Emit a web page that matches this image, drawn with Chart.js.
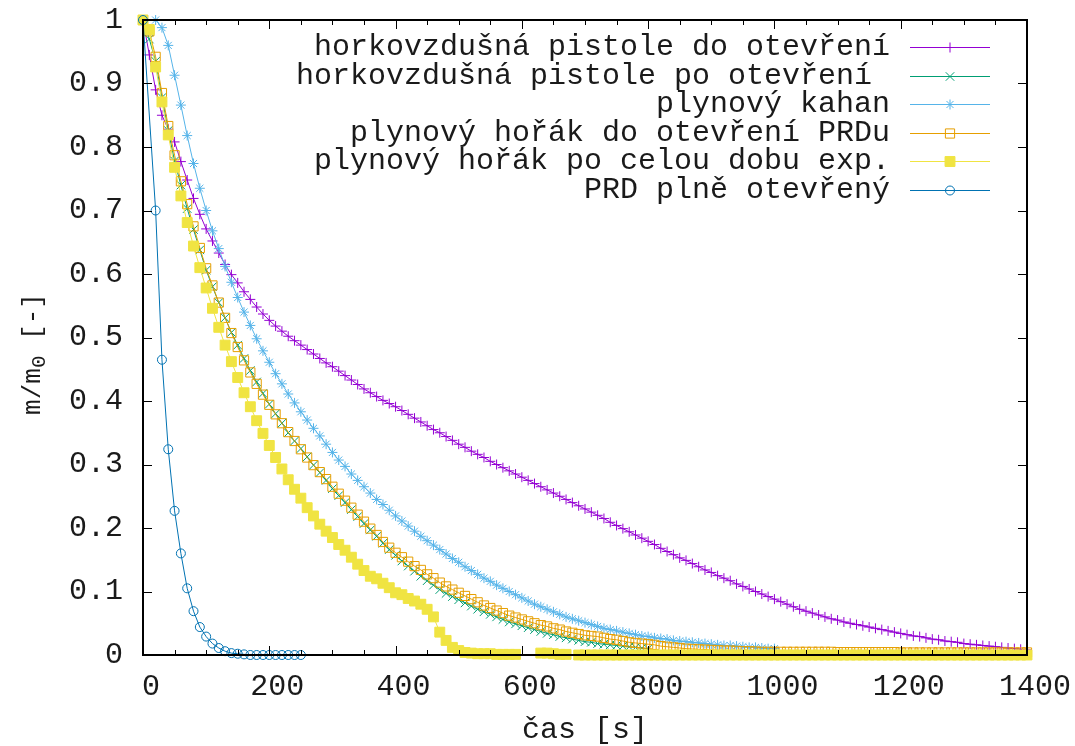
<!DOCTYPE html>
<html>
<head>
<meta charset="utf-8">
<script src="https://cdn.jsdelivr.net/npm/chart.js@4.4.1/dist/chart.umd.min.js"></script>
<style>
    html, body { margin: 0; padding: 0; background: #fff; }
    #wrap { width: 1075px; height: 746px; position: relative; }
</style>
</head>
<body>
<div id="wrap"><canvas id="myChart"></canvas></div>
<script>
    // sampling step of the measured series [s]
    const sampleStep = 10;

    const seriesLabels = [
        'horkovzdušná pistole do otevření',
        'horkovzdušná pistole po otevření ',
        'plynový kahan',
        'plynový hořák do otevření PRDu',
        'plynový hořák po celou dobu exp.',
        'PRD plně otevřený'
    ];

    // horkovzdušná pistole do otevření, t = 0 .. 1400 s
    const hotAirBefore = [
        1.000, 0.945, 0.890, 0.850, 0.828, 0.808, 0.777, 0.748, 0.719, 0.694,
        0.671, 0.652, 0.633, 0.615, 0.599, 0.586, 0.572, 0.560, 0.548, 0.537,
        0.527, 0.518, 0.510, 0.502, 0.495, 0.488, 0.481, 0.474, 0.467, 0.460,
        0.454, 0.447, 0.440, 0.433, 0.426, 0.419, 0.413, 0.407, 0.401, 0.396,
        0.391, 0.385, 0.379, 0.373, 0.367, 0.361, 0.355, 0.350, 0.344, 0.338,
        0.332, 0.327, 0.321, 0.316, 0.311, 0.305, 0.300, 0.295, 0.290, 0.285,
        0.280, 0.275, 0.270, 0.265, 0.260, 0.255, 0.250, 0.245, 0.240, 0.235,
        0.230, 0.225, 0.220, 0.215, 0.209, 0.204, 0.199, 0.194, 0.189, 0.184,
        0.179, 0.174, 0.168, 0.163, 0.158, 0.153, 0.149, 0.144, 0.139, 0.134,
        0.130, 0.125, 0.121, 0.117, 0.112, 0.108, 0.104, 0.100, 0.096, 0.092,
        0.088, 0.084, 0.080, 0.076, 0.072, 0.069, 0.066, 0.063, 0.060, 0.057,
        0.055, 0.052, 0.050, 0.048, 0.046, 0.044, 0.042, 0.040, 0.038, 0.036,
        0.034, 0.032, 0.030, 0.029, 0.027, 0.025, 0.024, 0.022, 0.021, 0.020,
        0.018, 0.017, 0.016, 0.015, 0.014, 0.013, 0.012, 0.011, 0.010, 0.009,
        0.008
    ];

    // horkovzdušná pistole po otevření, t = 0 .. 800 s
    const hotAirAfter = [
        1.000, 0.970, 0.935, 0.878, 0.826, 0.778, 0.740, 0.703, 0.670, 0.638,
        0.606, 0.580, 0.555, 0.531, 0.508, 0.488, 0.467, 0.448, 0.430, 0.412,
        0.395, 0.380, 0.365, 0.350, 0.337, 0.325, 0.312, 0.299, 0.287, 0.275,
        0.262, 0.251, 0.240, 0.229, 0.218, 0.207, 0.197, 0.187, 0.176, 0.166,
        0.157, 0.148, 0.140, 0.132, 0.124, 0.117, 0.110, 0.103, 0.097, 0.092,
        0.087, 0.082, 0.077, 0.072, 0.068, 0.064, 0.060, 0.056, 0.052, 0.049,
        0.046, 0.043, 0.040, 0.037, 0.034, 0.032, 0.029, 0.027, 0.025, 0.023,
        0.021, 0.020, 0.018, 0.017, 0.016, 0.015, 0.014, 0.013, 0.012, 0.011,
        0.010
    ];

    // plynový kahan, t = 20 .. 1000 s
    const gasLamp = [
        1.000, 0.988, 0.960, 0.913, 0.866, 0.818, 0.774, 0.735, 0.700, 0.668,
        0.640, 0.612, 0.587, 0.563, 0.540, 0.519, 0.498, 0.479, 0.461, 0.443,
        0.427, 0.411, 0.397, 0.383, 0.370, 0.357, 0.345, 0.332, 0.319, 0.307,
        0.297, 0.285, 0.275, 0.265, 0.255, 0.245, 0.237, 0.228, 0.219, 0.211,
        0.203, 0.195, 0.187, 0.180, 0.173, 0.166, 0.159, 0.152, 0.146, 0.139,
        0.133, 0.127, 0.121, 0.116, 0.110, 0.105, 0.100, 0.095, 0.090, 0.085,
        0.080, 0.076, 0.072, 0.068, 0.064, 0.060, 0.057, 0.054, 0.051, 0.048,
        0.045, 0.042, 0.040, 0.038, 0.036, 0.034, 0.032, 0.030, 0.029, 0.027,
        0.026, 0.025, 0.023, 0.022, 0.021, 0.020, 0.019, 0.018, 0.017, 0.016,
        0.015, 0.015, 0.014, 0.013, 0.012, 0.012, 0.011, 0.010, 0.010
    ];
    const gasLampStart = 20;

    // plynový hořák do otevření PRDu, t = 0 .. 1400 s
    const burnerBefore = [
        1.000, 0.982, 0.942, 0.885, 0.833, 0.787, 0.746, 0.710, 0.675, 0.641,
        0.609, 0.582, 0.555, 0.531, 0.507, 0.485, 0.464, 0.445, 0.427, 0.410,
        0.394, 0.379, 0.365, 0.351, 0.337, 0.324, 0.311, 0.299, 0.288, 0.277,
        0.265, 0.254, 0.243, 0.232, 0.221, 0.210, 0.199, 0.189, 0.178, 0.169,
        0.161, 0.154, 0.147, 0.140, 0.134, 0.127, 0.121, 0.114, 0.108, 0.103,
        0.098, 0.093, 0.088, 0.083, 0.078, 0.074, 0.070, 0.066, 0.062, 0.059,
        0.056, 0.053, 0.050, 0.047, 0.045, 0.042, 0.040, 0.037, 0.035, 0.033,
        0.031, 0.030, 0.029, 0.027, 0.025, 0.024, 0.022, 0.020, 0.019, 0.018,
        0.017, 0.016, 0.014, 0.013, 0.012, 0.011, 0.010, 0.0095, 0.009, 0.0085,
        0.008, 0.0075, 0.007, 0.007, 0.0065, 0.006, 0.006, 0.0055, 0.005, 0.005,
        0.005, 0.005, 0.005, 0.005, 0.005, 0.005, 0.005, 0.005, 0.005, 0.005,
        0.0045, 0.0045, 0.0045, 0.0045, 0.0045, 0.0045, 0.0045, 0.0045, 0.0045, 0.0045,
        0.004, 0.004, 0.004, 0.004, 0.004, 0.004, 0.004, 0.004, 0.004, 0.004,
        0.004, 0.004, 0.004, 0.004, 0.004, 0.004, 0.004, 0.004, 0.004, 0.004,
        0.004
    ];

    // plynový hořák po celou dobu exp., t = 0 .. 1400 s (null = out of range)
    const burnerWhole = [
        1.000, 0.985, 0.926, 0.871, 0.819, 0.768, 0.723, 0.681, 0.644, 0.610,
        0.578, 0.546, 0.516, 0.488, 0.462, 0.437, 0.413, 0.391, 0.369, 0.349,
        0.330, 0.311, 0.293, 0.276, 0.261, 0.247, 0.232, 0.219, 0.206, 0.195,
        0.185, 0.174, 0.165, 0.154, 0.143, 0.133, 0.124, 0.120, 0.113, 0.106,
        0.098, 0.095, 0.089, 0.085, 0.080, 0.072, 0.060, 0.036, 0.023, 0.012,
        0.007, 0.004, 0.003, 0.002, 0.002, 0.002, 0.001, 0.001, 0.001, 0.001,
        null, null, null, 0.003, 0.003, 0.002, 0.001, 0.001, null, 0,
        0, 0, 0, 0, 0, 0, 0, 0, 0, 0,
        0, 0, 0, 0, 0, 0, 0, 0, 0, 0,
        0, 0, 0, 0, 0, 0, 0, 0, 0, 0,
        0, 0, 0, 0, 0, 0, 0, 0, 0, 0,
        0, 0, 0, 0, 0, 0, 0, 0, 0, 0,
        0, 0, 0, 0, 0, 0, 0, 0, 0, 0,
        0, 0, 0, 0, 0, 0, 0, 0, 0, 0,
        0
    ];

    // PRD plně otevřený
    const prdTimes = [0, 20, 30, 40, 50, 60, 70, 80, 90, 100, 110, 120, 130, 140, 150, 160, 170, 180, 190, 200, 210, 220, 230, 240, 250];
    const prdValues = [1.000, 0.700, 0.465, 0.324, 0.227, 0.160, 0.105, 0.069, 0.044, 0.029, 0.018, 0.011, 0.006, 0.003, 0.002, 0.001, 0, 0, 0, 0, 0, 0, 0, 0, 0];

    const xTickLabels = [0, 200, 400, 600, 800, 1000, 1200, 1400];
    const yTickLabels = ['0', '0.1', '0.2', '0.3', '0.4', '0.5', '0.6', '0.7', '0.8', '0.9', '1'];

    const monoFont = '"Liberation Mono", "DejaVu Sans Mono", monospace';
    const fontSize = 30;
    const textColor = '#1a1a1a';

    function sampled(start, values) {
        return values.map((v, i) => ({ x: start + i * sampleStep, y: v }));
    }

    function paired(times, values) {
        return times.map((t, i) => ({ x: t, y: values[i] }));
    }

    function makeSet(i, data, color, style, radius, filled, order) {
        return {
            label: seriesLabels[i],
            data: data,
            borderColor: color,
            backgroundColor: color,
            borderWidth: 1,
            pointStyle: style,
            pointRadius: radius,
            pointBorderWidth: 1,
            pointBorderColor: color,
            pointBackgroundColor: filled ? color : 'rgba(0,0,0,0)',
            tension: 0,
            clip: false,
            spanGaps: false,
            order: order
        };
    }

    const datasets = [
        makeSet(0, sampled(0, hotAirBefore), '#9400D3', 'cross', 5, false, 6),
        makeSet(1, sampled(0, hotAirAfter), '#009E73', 'crossRot', 6, false, 5),
        makeSet(2, sampled(gasLampStart, gasLamp), '#56B4E9', 'star', 5, false, 4),
        makeSet(3, sampled(0, burnerBefore), '#E69F00', 'rect', 6.5, false, 3),
        makeSet(4, sampled(0, burnerWhole), '#F0E442', 'rect', 7, true, 2),
        makeSet(5, paired(prdTimes, prdValues), '#0072B2', 'circle', 4.5, false, 1)
    ];

    // gnuplot-like frame with inward ticks on all four sides
    const framePlugin = {
        id: 'frame',
        afterDatasetsDraw(chart) {
            const { ctx, chartArea: a, scales: { x, y } } = chart;
            ctx.save();
            ctx.strokeStyle = '#000';
            ctx.lineWidth = 1;
            ctx.beginPath();
            for (let t = x.min; t <= x.max; t += 50) {
                const px = Math.round(x.getPixelForValue(t)) + 0.5;
                const len = xTickLabels.includes(t) ? 9 : 5;
                ctx.moveTo(px, a.bottom); ctx.lineTo(px, a.bottom - len);
                ctx.moveTo(px, a.top); ctx.lineTo(px, a.top + len);
            }
            y.ticks.forEach(tk => {
                const py = Math.round(y.getPixelForValue(tk.value)) + 0.5;
                ctx.moveTo(a.left, py); ctx.lineTo(a.left + 9, py);
                ctx.moveTo(a.right, py); ctx.lineTo(a.right - 9, py);
            });
            ctx.stroke();
            ctx.lineWidth = 2;
            ctx.strokeRect(a.left, a.top, a.right - a.left, a.bottom - a.top);
            ctx.restore();
        }
    };

    // legend: text right aligned, then line sample with marker
    const keyPlugin = {
        id: 'key',
        afterDraw(chart) {
            const ctx = chart.ctx;
            const textRight = 890, lineStart = 910, lineEnd = 990, firstRow = 47, rowStep = 28.6;
            ctx.save();
            ctx.font = fontSize + 'px ' + monoFont;
            ctx.textAlign = 'right';
            ctx.textBaseline = 'middle';
            chart.data.datasets.forEach((ds, i) => {
                const yy = firstRow + i * rowStep;
                ctx.fillStyle = textColor;
                ctx.fillText(ds.label, textRight, yy);
                ctx.strokeStyle = ds.borderColor;
                ctx.lineWidth = 1;
                ctx.beginPath();
                ctx.moveTo(lineStart, Math.round(yy) + 0.5);
                ctx.lineTo(lineEnd, Math.round(yy) + 0.5);
                ctx.stroke();
                ctx.fillStyle = ds.pointBackgroundColor;
                Chart.helpers.drawPoint(ctx, {
                    pointStyle: ds.pointStyle,
                    radius: ds.pointRadius,
                    rotation: 0,
                    borderWidth: 1
                }, (lineStart + lineEnd) / 2, Math.round(yy) + 0.5);
            });
            ctx.restore();
        }
    };

    // y axis title m/m0 [-] with subscript
    const yTitlePlugin = {
        id: 'yTitle',
        afterDraw(chart) {
            const ctx = chart.ctx;
            const cx = 33, cy = 354;
            const titleSize = 26;
            const big = titleSize + 'px ' + monoFont;
            const small = Math.round(titleSize * 0.8) + 'px ' + monoFont;
            ctx.save();
            ctx.translate(cx, cy);
            ctx.rotate(-Math.PI / 2);
            ctx.fillStyle = textColor;
            ctx.textBaseline = 'middle';
            ctx.textAlign = 'left';
            ctx.font = big;
            const w1 = ctx.measureText('m/m').width;
            const w3 = ctx.measureText(' [-]').width;
            ctx.font = small;
            const w2 = ctx.measureText('0').width;
            let px = -(w1 + w2 + w3) / 2;
            ctx.font = big;
            ctx.fillText('m/m', px, 0);
            px += w1;
            ctx.font = small;
            ctx.fillText('0', px, 6);
            px += w2;
            ctx.font = big;
            ctx.fillText(' [-]', px, 0);
            ctx.restore();
        }
    };

    const ctx = document.getElementById('myChart').getContext('2d');
    const myChart = new Chart(ctx, {
        type: 'line',
        data: { datasets: datasets },
        options: {
            responsive: true,
            maintainAspectRatio: false,
            animation: false,
            layout: { padding: { left: 0, right: 48, top: 20, bottom: 0 } },
            plugins: {
                legend: { display: false },
                tooltip: { enabled: false }
            },
            scales: {
                x: {
                    type: 'linear',
                    min: 0,
                    max: 1400,
                    afterFit: function (scale) {
                        scale.height = 91;
                        scale.paddingLeft = 0;
                        scale.paddingRight = 0;
                    },
                    grid: { display: false, drawTicks: false },
                    border: { display: false },
                    ticks: {
                        stepSize: 200,
                        padding: 14,
                        labelOffset: 8,
                        maxRotation: 0,
                        autoSkip: false,
                        color: textColor,
                        font: { family: monoFont, size: fontSize },
                        callback: function (v) { return xTickLabels.includes(v) ? String(v) : ''; }
                    },
                    title: {
                        display: true,
                        text: 'čas [s]',
                        color: textColor,
                        font: { family: monoFont, size: fontSize, lineHeight: 1 },
                        padding: { top: 0, bottom: 1 }
                    }
                },
                y: {
                    min: 0,
                    max: 1,
                    afterFit: function (scale) {
                        scale.width = 143;
                        scale.paddingTop = 0;
                        scale.paddingBottom = 0;
                    },
                    grid: { display: false, drawTicks: false },
                    border: { display: false },
                    ticks: {
                        stepSize: 0.1,
                        padding: 20,
                        color: textColor,
                        font: { family: monoFont, size: fontSize },
                        callback: function (v) { return yTickLabels[Math.round(v * 10)]; }
                    }
                }
            }
        },
        plugins: [framePlugin, keyPlugin, yTitlePlugin]
    });
</script>
</body>
</html>
